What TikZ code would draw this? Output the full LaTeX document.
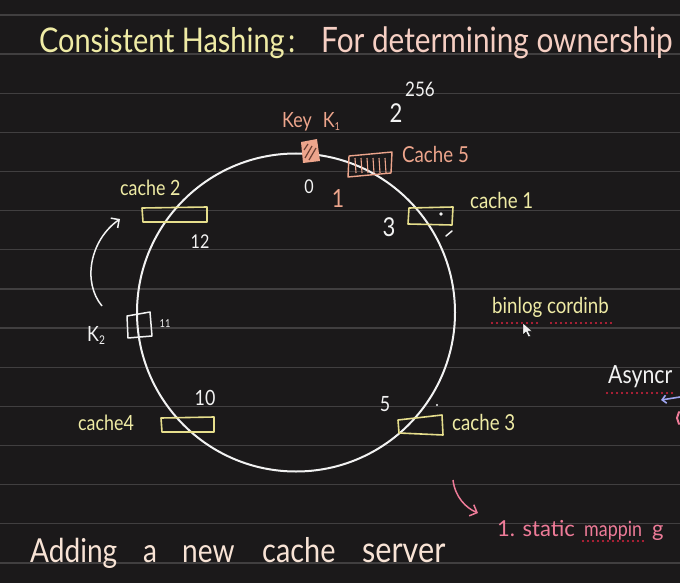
\documentclass[tikz,border=0pt]{standalone}
\usepackage{fontspec}
\newfontfamily\hand[FakeStretch=0.85]{Lato}
\newfontfamily\handw{Lato}
\usetikzlibrary{arrows.meta}
\definecolor{bg}{HTML}{1B191A}
\definecolor{rule}{HTML}{413F40}
\definecolor{yelT}{HTML}{EFEBA5}
\definecolor{yelB}{HTML}{E6DE8C}
\definecolor{peachT}{HTML}{F6CFC3}
\definecolor{salmon}{HTML}{EDA58C}
\definecolor{whiteT}{HTML}{F2F2F2}
\definecolor{pinkT}{HTML}{EE7B98}
\definecolor{dotred}{HTML}{D9233F}
\definecolor{blueT}{HTML}{9FA5F0}
\definecolor{addT}{HTML}{F8E3D5}
\definecolor{hatchD}{HTML}{6A3F33}
\begin{document}
\begin{tikzpicture}[x=1pt,y=-1pt,
  txt/.style={inner sep=0pt},
  fs/.style={font=\hand\fontsize{#1}{#1}\selectfont},
  fw/.style={font=\handw\fontsize{#1}{#1}\selectfont},
  boxy/.style={draw=yelB, line width=1.6pt, line join=round},
  spell/.style={dotred, line width=2.2pt, line cap=round, dash pattern=on 0pt off 5pt},
  barb/.style={-{Straight Barb[length=6pt,width=12pt]}}]
\useasboundingbox (0,0) rectangle (680,583);
\fill[bg] (0,0) rectangle (680,583);
\clip (0,0) rectangle (680,583);
\foreach \k in {0,...,14} \draw[rule, line width=1.3pt] (0,15+39.14*\k) -- (680,15+39.14*\k);

% ring
\draw[whiteT, line width=2pt] (296,312.5) circle[radius=159pt];

% title
\node[txt, fs=34, yelT, anchor=base west] (title) at (39,53) {Consistent Hashing};
\node[txt, fs=34, yelT, anchor=base west] (colon) at (288,53) {:};
\node[txt, fs=35, peachT, anchor=base west] (sub) at (321,53) {For determining ownership};

\node[txt, fs=20, whiteT] (exp) at (420,89) {256};
\node[txt, fs=26, whiteT] (two) at (396,113) {2};

% key K1
\node[txt, fs=21, salmon, anchor=base west] (key) at (282,128) {Key\hspace{11pt}K\raisebox{-3pt}{\fontsize{11}{11}\selectfont 1}};
\fill[salmon] (301,142) -- (317,139) -- (320,161) -- (303,163) -- cycle;
\draw[hatchD, line width=1.2pt] (305,158) -- (312,146) (309,160) -- (316,148) (304,150) -- (308,144);

% cache 5
\draw[salmon, line width=1.4pt, line join=round] (349,156) -- (392,152) -- (391,173) -- (348,177) -- cycle;
\foreach \x in {355,361,...,385} \draw[salmon, line width=1.1pt] (\x,158) -- (\x+1,173);
\node[txt, fs=22, salmon, anchor=base west] (c5) at (402,162) {Cache 5};
\node[txt, fs=19, whiteT] (n0) at (309,186.5) {0};
\node[txt, fs=25, salmon] (n1) at (338,199) {1};

% cache 1
\draw[boxy] (409,208) -- (453,207) -- (452,225) -- (408,224) -- cycle;
\fill[whiteT] (441,214) circle[radius=1.8pt];
\draw[whiteT, line width=1.5pt, line cap=round] (446,236) -- (452,231);
\node[txt, fs=22, yelT, anchor=base west] (c1) at (470,208) {cache 1};
\node[txt, fs=26, whiteT] (n3) at (389,227.5) {3};

% cache 2
\draw[boxy] (142,208) -- (207,207) -- (207,222) -- (143,222) -- cycle;
\node[txt, fs=21, yelT, anchor=base west] (c2) at (120,195) {cache 2};
\node[txt, fs=19, whiteT] (n12) at (200,241.5) {12};

% K2
\draw[whiteT, line width=1.5pt, line join=round] (127,316) -- (150,312) -- (152,336) -- (128,338) -- cycle;
\node[txt, fs=11, whiteT] (n11) at (165,323.5) {11};
\node[txt, fs=21, whiteT, anchor=base west] (k2) at (87,341) {K\raisebox{-3pt}{\fontsize{12}{12}\selectfont 2}};
\coordinate (aS) at (102,306);
\coordinate (aE) at (120,219);
\draw[whiteT, line width=1.5pt, barb] (aS) .. controls (82,282) and (90,240) .. (aE);

% cache 4
\draw[boxy] (161,418) -- (214,417) -- (214,432) -- (162,432) -- cycle;
\node[txt, fs=21, yelT, anchor=base west] (c4) at (78,430) {cache4};
\node[txt, fs=21, whiteT] (n10) at (205,397.5) {10};

% cache 3
\draw[boxy] (398,420) -- (442,415) -- (443,435) -- (399,433) -- cycle;
\fill[whiteT] (437,405) circle[radius=1.1pt];
\node[txt, fs=22, yelT, anchor=base west] (c3) at (452,430) {cache 3};
\node[txt, fs=21, whiteT] (n5) at (385,404.5) {5};

% right side notes
\node[txt, fs=22, yelT, anchor=base west] (bin) at (492,313) {binlog cordinb};
\draw[spell] (492,323) -- (538,323);
\draw[spell] (551,323) -- (612,323);
\fill[whiteT, draw=black, line width=0.4pt] (523,323) -- (523,335) -- (526,332) -- (528.5,337) -- (530.5,336) -- (528,331) -- (532,331) -- cycle;

\node[txt, fs=25, whiteT, anchor=base west] (async) at (608,383) {Asyncr};
\draw[spell] (607,393) -- (672,393);
\coordinate (bS) at (680,397);
\coordinate (bE) at (661,400);
\draw[blueT, line width=1.6pt, -{Straight Barb[length=4pt,width=8pt]}] (bS) -- (bE);
\draw[pinkT, line width=2pt, line cap=round] (679,412) -- (677,418) -- (679,424);

\coordinate (pS) at (453,480);
\coordinate (pE) at (478,513);
\draw[pinkT, line width=1.5pt, barb] (pS) .. controls (455,497) and (466,508) .. (pE);
\node[txt, fw=22, pinkT, anchor=base west] (static) at (497,536) {1. static};
\node[txt, fs=21, pinkT, anchor=base west] (mappin) at (584,536) {mappin};
\node[txt, fw=22, pinkT, anchor=base west] (gee) at (652,536) {g};
\draw[spell] (583,541) -- (644,541);

% bottom heading
\node[txt, fs=33, addT, anchor=base west] (w1) at (30,562) {Adding};
\node[txt, fs=33, addT, anchor=base west] (w2) at (143,562) {a};
\node[txt, fs=33, addT, anchor=base west] (w3) at (182,562) {new};
\node[txt, fs=34, addT, anchor=base west] (w4) at (262,562) {cache};
\node[txt, fs=36, addT, anchor=base west] (w5) at (362,562) {server};
\end{tikzpicture}
\end{document}
